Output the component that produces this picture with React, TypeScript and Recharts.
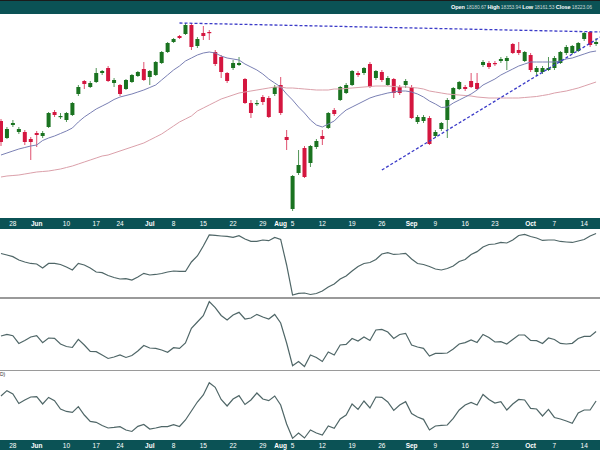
import React from "react";
import { ComposedChart, Bar, Line, XAxis, YAxis, ReferenceLine } from "recharts";

// trading days shown (last one is an empty slot so the trend lines run to the edge)
const dates = [
  "05-23", "05-24", "05-28", "05-29", "05-30", "05-31",
  "06-03", "06-04", "06-05", "06-06", "06-07", "06-10", "06-11", "06-12", "06-13", "06-14",
  "06-17", "06-18", "06-20", "06-21", "06-24", "06-25", "06-26", "06-27", "06-28",
  "07-01", "07-02", "07-03", "07-05", "07-08", "07-09", "07-10", "07-11", "07-12",
  "07-15", "07-16", "07-17", "07-18", "07-19", "07-22", "07-23", "07-24", "07-25", "07-26",
  "07-29", "07-30", "07-31", "08-01", "08-02", "08-05", "08-06", "08-07", "08-08", "08-09",
  "08-12", "08-13", "08-14", "08-15", "08-16", "08-19", "08-20", "08-21", "08-22", "08-23",
  "08-26", "08-27", "08-28", "08-29", "08-30", "09-03", "09-04", "09-05", "09-06",
  "09-09", "09-10", "09-11", "09-12", "09-13", "09-16", "09-17", "09-18", "09-19", "09-20",
  "09-23", "09-24", "09-25", "09-26", "09-27", "09-30", "10-01", "10-02", "10-03", "10-04",
  "10-07", "10-08", "10-09", "10-10", "10-11", "10-14", "10-15", "10-16", "10-17",
];

const tickLabels: Record<string, string> = {
  "05-28": "28", "06-03": "Jun", "06-10": "10", "06-17": "17", "06-24": "24",
  "07-01": "Jul", "07-08": "8", "07-15": "15", "07-22": "22", "07-29": "29",
  "08-01": "Aug", "08-05": "5", "08-12": "12", "08-19": "19", "08-26": "26",
  "09-03": "Sep", "09-09": "9", "09-16": "16", "09-23": "23",
  "10-01": "Oct", "10-07": "7", "10-14": "14",
};
const tickDates = Object.keys(tickLabels);

const opens = [
  17790, 17620, 17750, 17680, 17680, 17610, 17670, 17640, 17730, 17880,
  17830, 17800, 17850, 18060, 18190, 18130, 18180, 18270, 18320, 18170,
  18150, 18110, 18180, 18240, 18310, 18230, 18250, 18370, 18480, 18580,
  18640, 18660, 18750, 18540, 18670, 18680, 18480, 18430, 18270, 18320,
  18350, 18210, 17970, 17960, 18030, 18020, 18060, 18150, 17630, 16910,
  17270, 17520, 17370, 17530, 17640, 17720, 17900, 18000, 18070, 18150,
  18270, 18270, 18360, 18220, 18280, 18150, 18210, 18130, 18150, 18130,
  17780, 17790, 17820, 17640, 17710, 17800, 18010, 18110, 18130, 18190,
  18170, 18350, 18370, 18370, 18390, 18390, 18560, 18500, 18390, 18450,
  18280, 18280, 18300, 18320, 18370, 18470, 18470, 18490, 18610, 18680, 18560,
];
const highs = [
  17810, 17730, 17800, 17730, 17700, 17630, 17690, 17690, 17880, 17900,
  17870, 17880, 17980, 18150, 18200, 18190, 18320, 18300, 18340, 18220,
  18160, 18210, 18260, 18290, 18380, 18300, 18390, 18490, 18580, 18620,
  18650, 18770, 18770, 18630, 18740, 18700, 18500, 18450, 18280, 18400,
  18430, 18220, 18000, 18000, 18050, 18040, 18150, 18230, 17700, 17250,
  17500, 17540, 17550, 17610, 17700, 17880, 17920, 18140, 18170, 18300,
  18290, 18330, 18380, 18300, 18300, 18240, 18220, 18150, 18210, 18150,
  17850, 17850, 17840, 17700, 17780, 18020, 18130, 18190, 18150, 18270,
  18270, 18400, 18390, 18390, 18430, 18440, 18570, 18580, 18490, 18470,
  18340, 18340, 18430, 18440, 18490, 18550, 18550, 18580, 18680, 18690, 18620,
];
const lows = [
  17540, 17610, 17730, 17660, 17550, 17400, 17530, 17620, 17720, 17830,
  17810, 17780, 17840, 18040, 18110, 18120, 18170, 18250, 18180, 18130,
  18040, 18100, 18170, 18230, 18190, 18150, 18240, 18360, 18470, 18570,
  18610, 18650, 18500, 18520, 18600, 18600, 18340, 18220, 18170, 18300,
  18340, 17960, 17820, 17940, 17950, 17820, 18040, 17850, 17500, 16890,
  17250, 17220, 17330, 17510, 17550, 17710, 17840, 17990, 18060, 18140,
  18230, 18250, 18120, 18200, 18180, 18140, 18020, 18050, 18120, 17810,
  17760, 17770, 17550, 17620, 17690, 17620, 18000, 18100, 18090, 18120,
  18100, 18330, 18310, 18340, 18370, 18300, 18460, 18450, 18380, 18280,
  18240, 18260, 18290, 18300, 18360, 18450, 18460, 18480, 18590, 18530, 18540,
];
const closes = [
  17580, 17710, 17770, 17710, 17580, 17580, 17650, 17670, 17870, 17850,
  17840, 17870, 17970, 18130, 18160, 18170, 18270, 18290, 18190, 18200,
  18060, 18200, 18250, 18280, 18200, 18290, 18380, 18480, 18570, 18610,
  18620, 18750, 18530, 18610, 18640, 18670, 18360, 18280, 18190, 18370,
  18370, 17970, 17870, 17970, 17980, 17830, 18130, 17870, 17600, 17240,
  17350, 17230, 17540, 17590, 17610, 17870, 17860, 18130, 18150, 18290,
  18250, 18320, 18130, 18290, 18200, 18220, 18070, 18070, 18190, 17820,
  17830, 17830, 17560, 17680, 17770, 18000, 18120, 18180, 18110, 18130,
  18110, 18380, 18330, 18360, 18410, 18420, 18470, 18470, 18480, 18300,
  18320, 18320, 18320, 18420, 18480, 18530, 18540, 18570, 18670, 18550, 18580,
];

const ma20 = [
  17450, 17470, 17490, 17510, 17525, 17540, 17550, 17595, 17620, 17640,
  17665, 17690, 17720, 17780, 17830, 17870, 17910, 17940, 17970, 18005,
  18030, 18045, 18060, 18080, 18100, 18125, 18150, 18200, 18250, 18300,
  18340, 18390, 18420, 18450, 18470, 18480, 18470, 18440, 18420, 18410,
  18400, 18360, 18330, 18300, 18260, 18210, 18170, 18130, 18060, 18000,
  17930, 17870, 17800, 17750, 17730, 17760, 17790, 17850, 17900, 17930,
  17960, 17990, 18020, 18040, 18055, 18070, 18080, 18090, 18090, 18080,
  18060, 18030, 17990, 17960, 17925, 17930, 17970, 18000, 18030, 18060,
  18100, 18150, 18180, 18210, 18250, 18280, 18310, 18340, 18360, 18380,
  18380, 18380, 18380, 18380, 18390, 18410, 18420, 18440, 18460, 18480, 18490,
];
const ma50 = [
  17230, 17240, 17245, 17250, 17260, 17270, 17280, 17285, 17290, 17300,
  17310, 17325, 17340, 17360, 17380, 17400, 17420, 17440, 17450, 17470,
  17490, 17510, 17530, 17550, 17570, 17600, 17630, 17660, 17700, 17740,
  17780, 17810, 17840, 17890, 17920, 17950, 17980, 18010, 18030, 18050,
  18070, 18080, 18090, 18100, 18110, 18120, 18130, 18130, 18120, 18120,
  18115, 18110, 18105, 18100, 18100, 18100, 18110, 18110, 18115, 18120,
  18125, 18130, 18135, 18140, 18140, 18140, 18135, 18130, 18130, 18125,
  18120, 18110, 18090, 18080, 18070, 18060, 18055, 18050, 18045, 18040,
  18030, 18025, 18020, 18020, 18020, 18020, 18020, 18020, 18025, 18030,
  18035, 18045, 18055, 18070, 18080, 18090, 18105, 18120, 18140, 18160, 18180,
];

const oscA = [
  65.3, 63, 60.5, 55.5, 52.5, 50.3, 49.5, 43.5, 50.3, 50.3,
  48.8, 45, 40.5, 50.3, 48, 43.5, 37.5, 36.5, 32.3, 29.3,
  27, 27.5, 25.5, 30, 35.5, 33, 33.8, 35.3, 37.5, 39,
  38.3, 38.3, 52.5, 61.5, 76.5, 93, 92.3, 91.5, 90.8, 89.5,
  92, 87, 83.5, 83.5, 85.5, 84.5, 89.3, 86.3, 48, 3,
  5.3, 6, 3.8, 5.3, 9, 15, 19.5, 27, 31.5, 39,
  45.8, 50.3, 51.8, 56.3, 64.5, 66.5, 63.8, 64.5, 65.5, 57,
  50.3, 48.8, 45.8, 42, 40.5, 42.8, 46.5, 53.3, 56.3, 63.8,
  68, 75, 78.8, 79.5, 81.8, 81, 85.5, 92.3, 94, 90.8,
  88.5, 84.8, 85.5, 85.5, 83.3, 82.5, 81.8, 84, 86.3, 91.5, 95.3,
];
const oscB = [
  49.5, 52, 50, 38.3, 42.8, 48, 50, 39.5, 46.5, 46,
  37.5, 33.8, 32.3, 44.5, 36, 26.3, 26, 21, 15.8, 18,
  21, 17.3, 20.3, 27, 35.3, 31.5, 30.8, 28.5, 25, 32,
  31, 39, 61, 70.5, 80, 101, 92, 80.3, 73.5, 81,
  85, 75, 76.5, 82, 78, 75, 81.8, 69, 39, 5,
  11.3, 3.8, 21, 17.3, 11.3, 25.5, 21, 36, 37, 45.8,
  42, 48, 42.8, 58.5, 59.5, 55.5, 45.8, 51.8, 53.5, 36,
  33, 31, 19.5, 23.3, 23.5, 24, 30, 37.5, 39.5, 43.5,
  39.8, 51.8, 47.3, 40.5, 41, 37.5, 44.3, 51, 51, 42.8,
  42.5, 38.3, 46.5, 44.3, 38.3, 37.5, 38.5, 45.8, 49, 48.8, 56.3,
];
const oscC = [
  66, 74, 69, 54.8, 60, 64.5, 65, 54, 63.8, 59,
  46.5, 42.8, 41.5, 50, 37.5, 27.8, 26.5, 21.8, 18, 18.8,
  20, 15, 12.8, 20.5, 23.3, 16.5, 18, 20, 20, 23,
  20.3, 30, 43.5, 57, 67.5, 86, 79, 60.8, 51, 61.5,
  66.5, 53.3, 60, 70.5, 61.5, 59, 66, 52.5, 24, 2.5,
  10.5, 3, 15, 10.5, 7.5, 21, 17.5, 31.5, 37.5, 54,
  46, 58.5, 48, 64.5, 64, 57, 44.3, 52.5, 57.5, 39.8,
  34.5, 31, 15, 21, 21.8, 22.5, 32.3, 45, 52.5, 56.3,
  52.5, 68.3, 60.8, 55.5, 57.5, 45, 54, 60.8, 60, 47.3,
  46.5, 36, 45.8, 33.8, 31.5, 28.5, 25, 40.5, 45, 45, 58.5,
];

// dashed trend lines: start/end date and price
const topLine = { x1: "07-09", y1: 18770, x2: "10-17", y2: 18680 };
const riseLine = { x1: "08-26", y1: 17300, x2: "10-17", y2: 18640 };

const TEAL = "#0b5255";
const GREEN = "#1a7320";
const RED = "#d4163f";
const SLATE = "#7a80b4";
const PINK = "#dba0aa";
const OSC = "#4f6667";
const DASH = "#3b3bc8";
const FONT = "'Liberation Sans', Arial, sans-serif";

const W = 607;
const LEFT = -1.7;
const zero = { top: 0, right: 0, bottom: 0, left: 0 };

const rows = dates.map((d, i) => ({
  d,
  o: opens[i],
  hi: highs[i],
  lo: lows[i],
  c: closes[i],
  range: opens[i] === undefined ? null : [lows[i], highs[i]],
  ma20: ma20[i],
  ma50: ma50[i],
  a: oscA[i],
  b: oscB[i],
  k: oscC[i],
}));

function Candle(props: any) {
  const { x, y, width, height, payload } = props;
  if (!payload || payload.o === undefined) return null;
  const top = Math.min(y, y + height);
  const h = Math.abs(height);
  const { o, c, hi, lo } = payload;
  const py = (v: number) => top + ((hi - v) / (hi - lo)) * h;
  const col = c >= o ? GREEN : RED;
  const bt = py(Math.max(o, c));
  const bb = py(Math.min(o, c));
  const cx = x + width / 2;
  return (
    <g>
      <line x1={cx} x2={cx} y1={top} y2={top + h} stroke={col} strokeOpacity={0.75} strokeWidth={1} />
      <rect x={x} y={bt} width={width} height={Math.max(bb - bt, 1.2)} fill={col} />
    </g>
  );
}

function DateTick(props: any) {
  const { x, y, payload } = props;
  const label = tickLabels[payload.value] ?? "";
  const isMonth = /[A-Z]/.test(label);
  return (
    <text x={x} y={y + 7.5} textAnchor="middle" fill="#ffffff" fontSize={6.5}
      fontWeight={isMonth ? 700 : 400} fontFamily={FONT}>
      {label}
    </text>
  );
}

function dateAxis(show: boolean, height: number) {
  return (
    <XAxis dataKey="d" hide={!show} ticks={tickDates} interval={0} tick={<DateTick />}
      axisLine={false} tickLine={false} tickSize={0} tickMargin={0} height={height} />
  );
}

function Osc({ dataKey, top, height, domain, axis }: { dataKey: string; top: number; height: number; domain: [number, number]; axis?: boolean }) {
  return (
    <div style={{ position: "absolute", left: LEFT, top }}>
      <ComposedChart width={W} height={height} data={rows} margin={zero}>
        {dateAxis(!!axis, 10)}
        <YAxis hide domain={domain} allowDataOverflow />
        <Bar dataKey="none" isAnimationActive={false} />
        <Line dataKey={dataKey} stroke={OSC} strokeWidth={1.2} dot={false} isAnimationActive={false} />
      </ComposedChart>
    </div>
  );
}

export default function App() {
  const bar = (top: number, height: number) => (
    <div style={{ position: "absolute", left: 0, top, width: 600, height, background: TEAL }} />
  );
  const rule = (top: number) => (
    <div style={{ position: "absolute", left: 0, top, width: 600, height: 1.5, background: "#9a9a9a" }} />
  );
  const lab = { color: "#ffffff", fontWeight: 700, fontSize: 5.6 } as const;
  return (
    <div style={{ position: "fixed", left: 0, top: 0, width: 600, height: 450, overflow: "hidden", background: "#fff", fontFamily: FONT }}>
      <div style={{ position: "absolute", left: 0, top: 0, width: 600, height: 14, background: TEAL, borderTop: "1px solid #1b1b1b", boxSizing: "border-box" }} />
      <div style={{ position: "absolute", left: 451, top: 3, whiteSpace: "nowrap", fontSize: 5, color: "#c9d6d6", lineHeight: "8px", letterSpacing: -0.1 }}>
        <span style={lab}>Open</span> 18180.67 <span style={lab}>High</span> 18353.94{" "}
        <span style={lab}>Low</span> 18161.53 <span style={lab}>Close</span> 18223.06
      </div>
      {bar(218, 11)}
      {bar(440, 10)}
      {rule(297)}
      {rule(369.5)}

      <div style={{ position: "absolute", left: LEFT, top: 14 }}>
        <ComposedChart width={W} height={215} data={rows} margin={zero}>
          {dateAxis(true, 11)}
          <YAxis hide domain={[16820, 18860]} allowDataOverflow />
          <Line dataKey="ma50" stroke={PINK} strokeWidth={1} dot={false} isAnimationActive={false} />
          <Line dataKey="ma20" stroke={SLATE} strokeWidth={1} dot={false} isAnimationActive={false} />
          <Bar dataKey="range" barSize={4} shape={<Candle />} isAnimationActive={false} />
          <ReferenceLine segment={[{ x: topLine.x1, y: topLine.y1 }, { x: topLine.x2, y: topLine.y2 }]}
            stroke={DASH} strokeWidth={1.3} strokeDasharray="3 2" ifOverflow="visible" />
          <ReferenceLine segment={[{ x: riseLine.x1, y: riseLine.y1 }, { x: riseLine.x2, y: riseLine.y2 }]}
            stroke={DASH} strokeWidth={1.3} strokeDasharray="3 2" ifOverflow="visible" />
        </ComposedChart>
      </div>

      <Osc dataKey="a" top={229} height={68} domain={[0, 102]} />
      <Osc dataKey="b" top={298} height={71} domain={[0, 106.5]} />
      <Osc dataKey="k" top={370} height={80} domain={[0, 105]} axis />

      <div style={{ position: "absolute", left: 0, top: 371, fontSize: 5, lineHeight: "6px", color: "#333" }}>D)</div>
    </div>
  );
}
